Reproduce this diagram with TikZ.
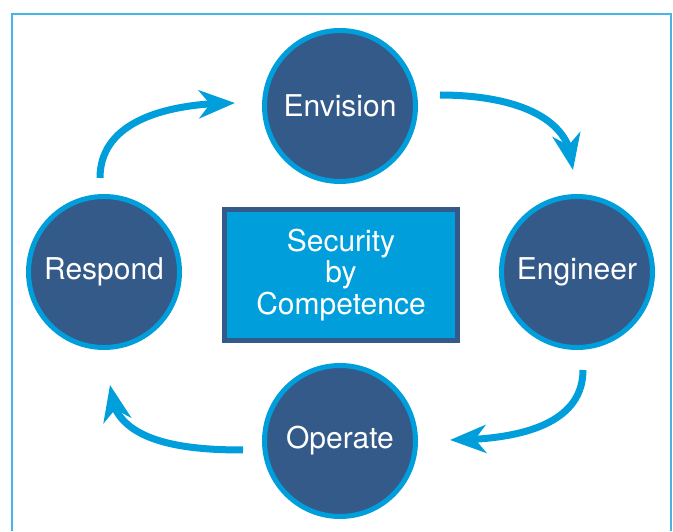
\documentclass[tikz,border=0pt]{standalone}
\usepackage{fontspec}
\setmainfont{TeX Gyre Heros}
\usetikzlibrary{arrows.meta,bending}
\definecolor{stageblue}{HTML}{345A8A}
\definecolor{ringblue}{HTML}{009EDB}
\definecolor{framecyan}{HTML}{45B6E6}
\tikzset{
	stage/.style={draw=ringblue, fill=stageblue, circle, line width=5pt, minimum size=151pt, inner sep=0pt, text=white, font=\fontsize{30}{31}\selectfont},
	core/.style={draw=stageblue, fill=ringblue, line width=5pt, minimum width=233pt, minimum height=131pt, inner sep=0pt, align=center, text=white, font=\fontsize{30}{31.5}\selectfont},
	flow/.style={draw=ringblue, line width=7pt, -{Stealth[length=36pt, width=28pt, inset=11pt, flex]}}
}
\newcommand{\stage}[4]{
	\path (#1,#2) node[stage](#3){#4};
}
\newcommand{\flow}[5]{
	\draw[flow] (#1) to[out=#2, in=#3] (#4);
}

\begin{document}
\begin{tikzpicture}[x=1pt, y=1pt]
	\useasboundingbox (0,0) rectangle (673,531);
	\draw[framecyan, line width=1.5pt] (12,0) |- (671,517) -- (671,0);

	\stage{340}{425}{envision}{Envision};
	\stage{577}{259}{engineer}{Engineer};
	\stage{340}{90}{operate}{Operate};
	\stage{104}{259}{respond}{Respond};

	\node[core] (core) at (341,256) {Security\\by\\Competence};

	\flow{[xshift=-4pt, yshift=16pt]respond.north}{90}{180}{[xshift=-27pt, yshift=3pt]envision.west};
	\flow{[xshift=22pt, yshift=11pt]envision.east}{0}{90}{[xshift=-4pt, yshift=24pt]engineer.north};
	\flow{[xshift=6pt, yshift=-20pt]engineer.south}{-90}{0}{[xshift=32pt, yshift=1pt]operate.east};
	\flow{[xshift=-19pt, yshift=-9pt]operate.west}{180}{-90}{[xshift=6pt, yshift=-35pt]respond.south};
\end{tikzpicture}
\end{document}
